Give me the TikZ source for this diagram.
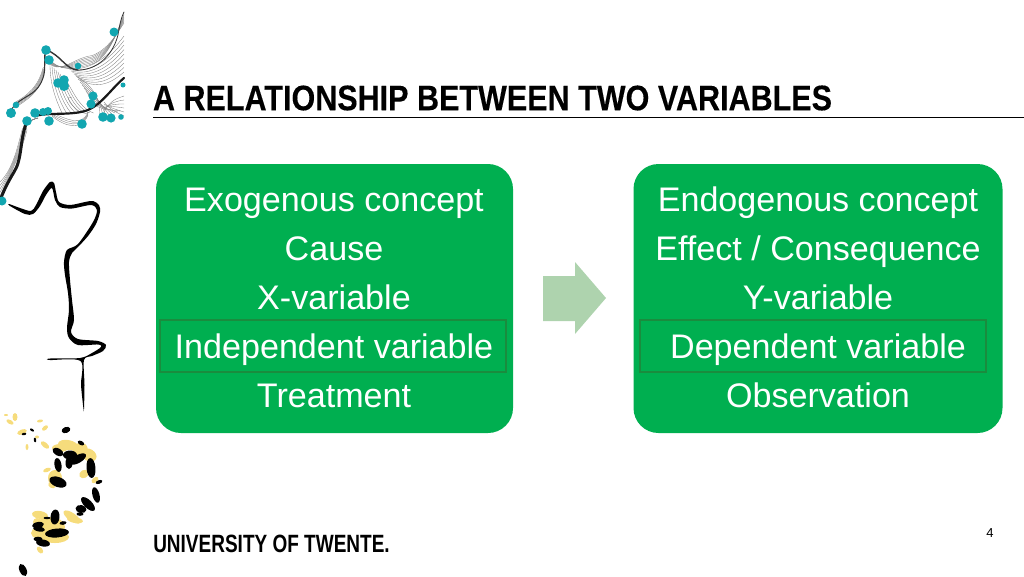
\documentclass[tikz,border=0pt]{standalone}
\usepackage{fontspec}
\setmainfont{Liberation Sans}
\definecolor{boxgreen}{HTML}{00AF50}
\definecolor{markgreen}{HTML}{1A8C3E}
\definecolor{arrowgreen}{HTML}{AED3AE}
\definecolor{dotteal}{HTML}{12A6B0}
\definecolor{blobyellow}{HTML}{F6DC7C}
\newfontfamily\titlefont[FakeStretch=0.86,FakeBold=0.2]{Liberation Sans Bold}
\newfontfamily\unifont[FakeStretch=0.76]{Liberation Sans Bold}
\tikzset{
  conceptbox/.style={fill=boxgreen,rounded corners=25pt,minimum height=269pt,inner sep=0pt},
  markbox/.style={draw=markgreen,line width=1.3pt,minimum height=52pt,inner sep=0pt},
  rowtext/.style={text=white,font=\fontsize{34.1}{40}\selectfont,inner sep=0pt,anchor=base},
  webline/.style={draw=black!50,line width=.35pt},
  webthick/.style={draw=black!80,line width=1.4pt,line cap=round}
}
\begin{document}
\begin{tikzpicture}[x=1pt,y=-1pt]
\useasboundingbox (0,0) rectangle (1024,576);
% title and footer
\node (title) at (492.5,98) {\titlefont\fontsize{35.5}{40}\selectfont A RELATIONSHIP BETWEEN TWO VARIABLES};
\draw[line width=.8pt] (153,117) -- (1024,117);
\node (uni) at (271.5,544) {\unifont\fontsize{25}{28}\selectfont UNIVERSITY OF TWENTE.};
\node (pagenr) at (990,533) {\fontsize{13}{15}\selectfont 4};
% the two boxes
\node[conceptbox,minimum width=357pt] (left) at (334.5,298.5) {};
\node[conceptbox,minimum width=369pt] (right) at (818,298.5) {};
\node[markbox,minimum width=346pt] (leftmark) at (333,346) {};
\node[markbox,minimum width=346pt] (rightmark) at (813,346) {};
\node[rowtext] (l1) at (334,211) {Exogenous concept};
\node[rowtext] (l2) at (334,260) {Cause};
\node[rowtext] (l3) at (334,309) {X-variable};
\node[rowtext] (l4) at (334,358) {Independent variable};
\node[rowtext] (l5) at (334,407.5) {Treatment};
\node[rowtext] (r1) at (818,211) {Endogenous concept};
\node[rowtext] (r2) at (818,260) {Effect / Consequence};
\node[rowtext] (r3) at (818,309) {Y-variable};
\node[rowtext] (r4) at (818,358) {Dependent variable};
\node[rowtext] (r5) at (818,407.5) {Observation};
\fill[arrowgreen] (543,276) -- (575,276) -- (575,262) -- (606,298) -- (575,334) -- (575,321) -- (543,321) -- cycle;
% web of lines at the top left
\foreach \i in {0,...,8}
  \draw[webline] ({68+\i*1.5},{68+\i*1.5}) .. controls ({88+\i},{72+\i*2}) and (108,{58+\i*3.5}) .. (124,{36+\i*4.5});
\foreach \i in {0,...,7}
  \draw[webline] ({50+\i*2},{64+\i*2}) .. controls ({50+\i*3},85) and ({56+\i*3},{100+\i}) .. ({62+\i*4.5},113);
\foreach \i in {0,...,7}
  \draw[webline] ({76+\i*2},{76+\i*3}) .. controls (92,{86+\i*3}) and (100,{95+\i*2}) .. ({100+\i*3},{118-\i});
\foreach \i in {0,...,5}
  \draw[webline] (104,{112-\i*2}) .. controls (110,{100+\i*2}) and (118,{98+\i*3}) .. (124,{96+\i*4});
\foreach \i in {0,...,6}
  \draw[webline] (47,{57+\i*.7}) .. controls (60,{72+\i*.7}) and (72,{70-\i*2}) .. (92,{64-\i*1.4}) .. controls (108,{58-\i*1.4}) and (116,35) .. (124,{14+\i*1.5});
\foreach \i in {0,...,5}
  \draw[webline] (14,{108-\i}) .. controls (28,{100-\i}) and (38,{92-\i}) .. (43,{78-\i*2}) .. controls (45,70) and (45,60) .. (46,52);
\foreach \i in {0,...,5}
  \draw[webline] (0,{182+\i*3.5}) .. controls (12,170) and ({17+\i},150) .. ({22+\i},130) .. controls (24,124) and (30,120) .. (38,118);
\foreach \i in {0,...,3}
  \draw[webline] (52,{113+\i}) .. controls (65,{118+\i*3}) and (82,{128+\i}) .. (88,{112+\i});
\draw[webline] (72,98) .. controls (60,92) and (80,120) .. (90,112);
\draw[webthick] (46,50) .. controls (60,54) and (66,70) .. (78,70);
\draw[webthick,line width=.8pt] (78,70) .. controls (95,70) and (112,58) .. (118,35) .. controls (120,22) and (122,16) .. (124,12);
\draw[webthick,line width=2.2pt,draw=black!90] (35,116) .. controls (50,112) and (72,116) .. (88,110) .. controls (102,104) and (112,88) .. (124,78);
\draw[webthick,line width=3pt,draw=black!90] (26,124) .. controls (20,140) and (22,160) .. (14,172) .. controls (8,182) and (4,190) .. (1,198);
\draw[webthick,line width=1pt] (11,110) .. controls (22,94) and (36,98) .. (43,78) .. controls (46,70) and (44,60) .. (45,52);
\foreach \x/\y/\r in {114/32/4.5,46/50/4.8,49/60/4.8,78/66/3.3,58/83/4.8,64/80/4.8,64/86/5,93/96/4.6,
                      91/104/4.6,123/85/2.5,16/105/3.3,11/113/5,35/113/4.8,43/112/4,48/111/4,27/121/4.8,
                      49/121/4.8,82/124/4.8,103/117/4.8,111/118/4.6,121/117/2.8,2/201/4.5}
  \fill[dotteal] (\x,\y) circle (\r);
% black figure
\fill[black] plot[smooth cycle,tension=.5] coordinates {(9,204) (20,208) (31,211) (36,205) (43,191) (50,182) (54,183)
  (56,192) (59,202) (70,205) (85,202) (93,201) (99,205) (100,212) (96,224) (88,236) (78,247) (72,253) (69,262)
  (70,280) (72,300) (74,320) (71,332) (78,339) (98,341) (106,345) (103,351) (92,356) (84,360) (84.5,385) (84,409)
  (83.5,409) (81,385) (80.5,361) (50,360) (50,358.5) (80,358) (92,353) (101,347) (98,344.5) (78,345) (69,338)
  (67,328) (69,310) (68,293) (65,275) (64,262) (67,250) (78,244) (93,222) (97,210) (91,205) (72,208.5) (60,207)
  (55,200) (52,188) (46,195) (40,206) (33,214) (25,214) (10,206)};
% yellow and black blobs
\foreach \x/\y/\a/\b/\r in {68/445/10/5/-10,80/450/8/7/30,89/455/8/6/-30,55/478/7/8/0,52/485/4/3/-30,47/470/4/2/20,
    95/480/4/2.5/40,40/515/8/4/-10,72/517/10/4/-35,75/520/8/3/-10,50/527/15/10/0,37/533/6/5/0,55/537/14/6/0,
    40/550/4/2.5/-50,37/522/4/4/0,84/474/5/4/30,60/448/8/4/0,10/422/4/2/-30,15/417/2.5/4/0,22/432/5/2.5/20,
    45/445/5/2.5/-40,45/428/3.5/2/40,40/421/3/1.5/10,27/447/1.5/3/0,37/437/2/1.5/0,6/415/2/1/0}
  \fill[blobyellow,rotate around={\r:(\x,\y)}] (\x,\y) ellipse ({\a} and {\b});
\foreach \x/\y/\a/\b/\r in {66/430/4.5/3/20,58/452/6/3.5/-30,58/465/3.5/7/10,70/455/7/4.5/0,69/463/3.5/6/0,78/459/9/4/30,
    91/468/4.5/10/5,81/443/3.5/2/-30,58/482/9/5/-20,99/482/3.5/1.8/20,96/495/3.5/8/15,88/504/9/4/-45,81/509/5.5/4/-10,
    80/514/3.5/1.8/0,55/517/4.5/7.5/-5,57/533/12/4.5/5,38/525/6/3/10,39/529/6/2.5/-10,38/539/4.5/2.3/0,43/543/7/3.5/-10,
    63/523/3.5/1.8/10,47/518/3.5/1.2/0,24/434/2.3/1.2/10,32/430/2.3/1.2/-30,35/440/1.2/2.3/10,23/570/3.5/6.5/25}
  \fill[black,rotate around={\r:(\x,\y)}] (\x,\y) ellipse ({\a} and {\b});
\end{tikzpicture}
\end{document}
